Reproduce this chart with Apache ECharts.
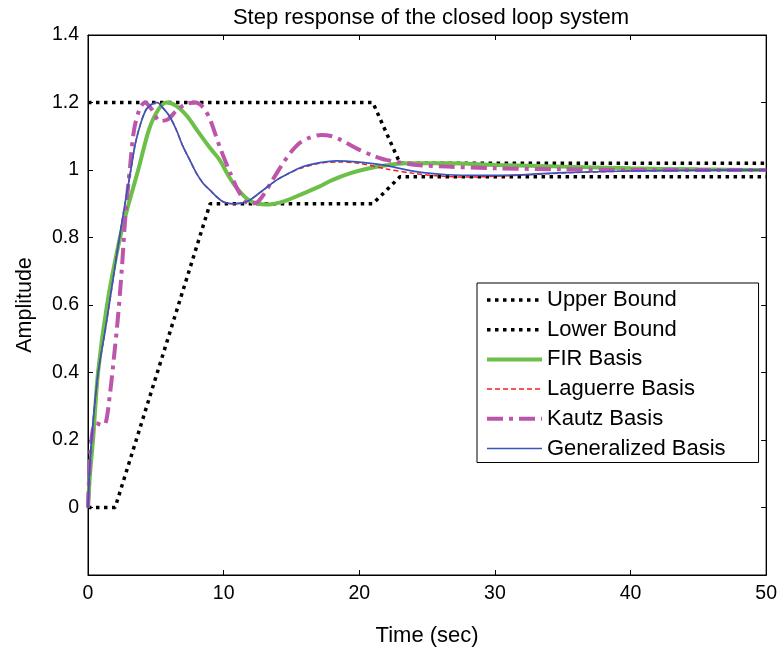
<!DOCTYPE html>
<html>
<head>
<meta charset="utf-8">
<script src="https://cdn.jsdelivr.net/npm/echarts@6/dist/echarts.min.js"></script>
<style>html,body{margin:0;padding:0;background:#fff}#c{width:780px;height:652px}</style>
</head>
<body>
<div id="c"></div>
<script>
var seriesNames = ['Upper Bound', 'Lower Bound', 'FIR Basis', 'Laguerre Basis', 'Kautz Basis', 'Generalized Basis'];
var yTicks = [-0.2, 0, 0.2, 0.4, 0.6, 0.8, 1.0, 1.2, 1.4];
var xTicks = [0, 10, 20, 30, 40, 50];

var upperBound = [[0,1.2],[21,1.2],[23,1.02],[50,1.02]];
var lowerBound = [[0,0],[2,0],[9,0.9],[21,0.9],[23,0.98],[50,0.98]];

var firBasis = [[0,0],[0.15,0.1],[0.37,0.2],[0.74,0.4],[1.4,0.6],[2.36,0.8],[3.0,0.9],[3.7,1.0],[4.5,1.12],[5.2,1.18],[5.8,1.2],[6.5,1.19],[7.3,1.16],[8.0,1.12],[9.0,1.065],[9.7,1.03],[10.4,0.98],[11.0,0.945],[11.8,0.912],[12.5,0.9],[13.3,0.898],[14.5,0.908],[15.6,0.926],[17,0.95],[18,0.97],[19.3,0.99],[20.5,1.003],[22,1.014],[23.5,1.02],[26.5,1.02],[30,1.015],[35,1.01],[40,1.005],[45,1.002],[50,1.0]];

var laguerreBasis = [[0,0],[0.1,0.1],[0.3,0.22],[0.75,0.4],[1.25,0.52],[1.75,0.65],[2.2,0.77],[2.6,0.87],[3.2,1.01],[3.5,1.08],[3.9,1.14],[4.3,1.18],[4.7,1.195],[5.1,1.2],[5.5,1.185],[6.0,1.16],[6.5,1.12],[7.0,1.07],[7.5,1.03],[8.0,0.99],[8.5,0.96],[9.0,0.94],[9.5,0.92],[10,0.905],[10.7,0.9],[11.3,0.902],[11.9,0.91],[12.9,0.94],[13.9,0.97],[14.8,0.99],[15.6,1.004],[17.1,1.02],[18.5,1.024],[20,1.02],[22,1.003],[24,0.99],[26,0.982],[28,0.979],[31,0.983],[35,0.991],[40,0.997],[45,0.999],[50,1.0]];

var kautzBasis = [[0,0],[0.15,0.15],[0.35,0.23],[0.6,0.25],[1.0,0.245],[1.3,0.25],[1.6,0.33],[1.85,0.42],[2.2,0.56],[2.5,0.71],[2.75,0.86],[3.1,1.01],[3.4,1.12],[3.8,1.18],[4.2,1.2],[4.7,1.18],[5.3,1.145],[5.9,1.15],[6.5,1.175],[7.2,1.195],[7.9,1.2],[8.5,1.185],[9.0,1.15],[9.7,1.07],[10.5,0.99],[11.2,0.93],[11.9,0.9],[12.5,0.905],[13.0,0.93],[13.6,0.97],[14.3,1.015],[14.9,1.05],[15.6,1.08],[16.3,1.095],[17.2,1.104],[18,1.1],[18.6,1.09],[20,1.06],[21,1.043],[22,1.03],[24.2,1.015],[26.5,1.01],[30,1.005],[35,1.002],[40,1.0],[50,1.0]];

var generalizedBasis = [[0,0],[0.1,0.1],[0.3,0.22],[0.75,0.4],[1.25,0.52],[1.75,0.65],[2.2,0.77],[2.6,0.87],[3.2,1.01],[3.5,1.08],[3.9,1.14],[4.3,1.18],[4.7,1.195],[5.1,1.2],[5.5,1.185],[6.0,1.16],[6.5,1.12],[7.0,1.07],[7.5,1.03],[8.0,0.99],[8.5,0.96],[9.0,0.94],[9.5,0.92],[10,0.905],[10.7,0.9],[11.3,0.902],[11.9,0.91],[12.9,0.94],[13.9,0.97],[14.8,0.99],[15.6,1.006],[16.3,1.015],[17.1,1.022],[18.3,1.027],[19.8,1.024],[21.7,1.015],[24.2,0.995],[26.5,0.986],[29,0.984],[32,0.986],[35,0.992],[40,0.997],[45,0.999],[50,1.0]];

var FONT = '"Liberation Sans", Arial, Helvetica, sans-serif';
var chart = echarts.init(document.getElementById('c'), null, {renderer: 'canvas'});

function fmtY(v) {
  if (v < -0.1) return '';
  var r = Math.round(v * 10) / 10;
  return String(r);
}

var styles = [
  {color: '#000', width: 3.5, type: [3.5, 4.5], cap: 'butt'},
  {color: '#000', width: 3.5, type: [3.5, 4.5], cap: 'butt'},
  {color: '#6cbf47', width: 4, type: 'solid'},
  {color: '#f21c24', width: 1.5, type: [5, 3]},
  {color: '#bd55ab', width: 4, type: [16, 6, 4, 6]},
  {color: '#3a56b8', width: 1.7, type: 'solid'}
];
var dataSets = [upperBound, lowerBound, firBasis, laguerreBasis, kautzBasis, generalizedBasis];

var series = seriesNames.map(function (n, i) {
  return {
    name: n, type: 'line', data: dataSets[i], symbol: 'none',
    smooth: i < 2 ? false : 0.3,
    lineStyle: styles[i], itemStyle: {color: styles[i].color}
  };
});

var legendData = seriesNames.map(function (n, i) {
  return {name: n, lineStyle: {width: styles[i].width, type: styles[i].type, color: styles[i].color}};
});

chart.setOption({
  animation: false,
  backgroundColor: '#fff',
  title: {
    text: 'Step response of the closed loop system',
    left: 426, top: 2, textAlign: 'center',
    textStyle: {fontFamily: FONT, fontSize: 22, fontWeight: 'normal', color: '#000'}
  },
  grid: {left: 88, right: 13, top: 35, bottom: 77, show: true, borderColor: '#000', borderWidth: 1, containLabel: false},
  legend: {
    orient: 'vertical', left: 477, top: 283,
    data: legendData,
    itemWidth: 55, itemHeight: 2, itemGap: 7.7,
    padding: [6, 33, 3, 8],
    itemStyle: {opacity: 0},
    backgroundColor: '#fff', borderColor: '#000', borderWidth: 1, borderRadius: 0,
    textStyle: {fontFamily: FONT, fontSize: 22, color: '#000', lineHeight: 22}
  },
  xAxis: [{
    type: 'value', min: 0, max: 50, interval: 10,
    name: 'Time (sec)', nameLocation: 'middle', nameGap: 50,
    nameTextStyle: {fontFamily: FONT, fontSize: 22, color: '#000'},
    axisLine: {show: true, onZero: false, lineStyle: {color: '#000', width: 1}},
    axisTick: {show: true, inside: true, length: 5, lineStyle: {color: '#000'}},
    axisLabel: {fontFamily: FONT, fontSize: 19.5, color: '#000', margin: 9},
    splitLine: {show: false}
  }, {
    type: 'value', min: 0, max: 50, interval: 10, position: 'top',
    axisLine: {show: true, onZero: false, lineStyle: {color: '#000', width: 1}},
    axisTick: {show: true, inside: true, length: 5, lineStyle: {color: '#000'}},
    axisLabel: {show: false}, splitLine: {show: false}
  }],
  yAxis: [{
    type: 'value', min: -0.2, max: 1.4, interval: 0.2,
    name: 'Amplitude', nameLocation: 'middle', nameGap: 52, nameRotate: 90,
    nameTextStyle: {fontFamily: FONT, fontSize: 21.5, color: '#000'},
    axisLine: {show: true, onZero: false, lineStyle: {color: '#000', width: 1}},
    axisTick: {show: true, inside: true, length: 5, lineStyle: {color: '#000'}},
    axisLabel: {fontFamily: FONT, fontSize: 19.5, color: '#000', margin: 9, formatter: fmtY},
    splitLine: {show: false}
  }, {
    type: 'value', min: -0.2, max: 1.4, interval: 0.2, position: 'right',
    axisLine: {show: true, onZero: false, lineStyle: {color: '#000', width: 1}},
    axisTick: {show: true, inside: true, length: 5, lineStyle: {color: '#000'}},
    axisLabel: {show: false}, splitLine: {show: false}
  }],
  series: series
});
</script>
</body>
</html>
